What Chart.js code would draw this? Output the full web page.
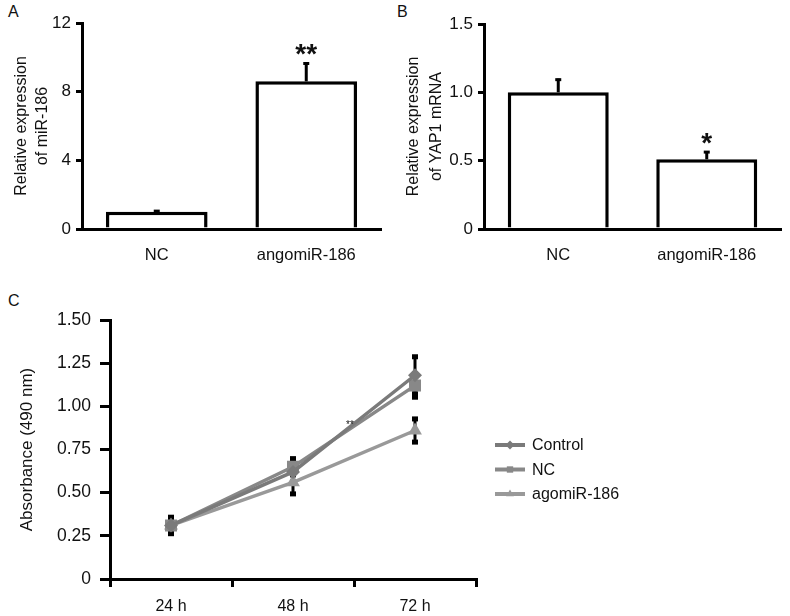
<!DOCTYPE html>
<html><head><meta charset="utf-8">
<script src="https://cdn.jsdelivr.net/npm/chart.js"></script>
<style>
html,body{margin:0;padding:0;background:#fff;}
body{width:790px;height:616px;overflow:hidden;position:relative;font-family:"Liberation Sans",Arial,sans-serif;}
.cv{position:absolute;}
.lbl{position:absolute;font-size:16px;color:#111;line-height:18px;}
</style></head><body>
<div class="lbl" style="left:8px;top:3px">A</div>
<div class="lbl" style="left:397px;top:3px">B</div>
<div class="lbl" style="left:8px;top:292px">C</div>
<canvas id="ca" class="cv" width="390" height="270" style="left:0;top:0;width:390px;height:270px"></canvas>
<canvas id="cb" class="cv" width="400" height="270" style="left:390px;top:0;width:400px;height:270px"></canvas>
<canvas id="cc" class="cv" width="790" height="326" style="left:0;top:290px;width:790px;height:326px"></canvas>
<script>
// ---- data ----
const barCategories = ['NC', 'angomiR-186'];
const mirValues = [1.0, 8.6];
const mirErrors = [0.1, 1.1];
const mirStars = ['', '**'];
const yapValues = [1.0, 0.51];
const yapErrors = [0.1, 0.06];
const yapStars = ['', '*'];
const yTicksA = [0, 4, 8, 12];
const yTickLabelsA = ['0', '4', '8', '12'];
const yTicksB = [0, 0.5, 1.0, 1.5];
const yTickLabelsB = ['0', '0.5', '1.0', '1.5'];
const timePoints = ['24 h', '48 h', '72 h'];
const seriesNames = ['Control', 'NC', 'agomiR-186'];
const controlValues = [0.31, 0.62, 1.18];
const ncValues = [0.31, 0.65, 1.12];
const agomirValues = [0.31, 0.56, 0.86];
const controlErrors = [0.05, 0.06, 0.11];
const ncErrors = [0.05, 0.05, 0.07];
const agomirErrors = [0.04, 0.07, 0.07];
const yTicksC = [0, 0.25, 0.5, 0.75, 1.0, 1.25, 1.5];
const yTickLabelsC = ['0', '0.25', '0.50', '0.75', '1.00', '1.25', '1.50'];
const sigLabelC = '**';

// ---- styling ----
const FONT = '"Liberation Sans", Arial, sans-serif';
Chart.defaults.font.family = FONT;
Chart.defaults.font.size = 16;
Chart.defaults.color = '#111';

function barErrorPlugin(errors, stars) {
  return {
    id: 'barErr',
    afterDatasetsDraw(chart) {
      const ctx = chart.ctx, y = chart.scales.y;
      const ds = chart.data.datasets[0];
      chart.getDatasetMeta(0).data.forEach((el, i) => {
        const v = ds.data[i], e = errors[i];
        const yTop = y.getPixelForValue(v + e), yBase = y.getPixelForValue(v);
        ctx.save();
        ctx.strokeStyle = '#000'; ctx.lineWidth = 3;
        ctx.beginPath(); ctx.moveTo(el.x, yBase); ctx.lineTo(el.x, yTop); ctx.stroke();
        ctx.beginPath(); ctx.moveTo(el.x - 3, yTop + 1); ctx.lineTo(el.x + 3, yTop + 1); ctx.stroke();
        if (stars[i]) {
          ctx.font = 'bold 28px ' + FONT; ctx.textAlign = 'center'; ctx.textBaseline = 'alphabetic';
          ctx.fillStyle = '#111'; ctx.fillText(stars[i], el.x, yTop + 1);
        }
        ctx.restore();
      });
    }
  };
}

function barChart(id, values, errors, stars, ticks, tickLabels, title, yMax, L) {
  return new Chart(document.getElementById(id), {
    type: 'bar',
    data: { labels: barCategories, datasets: [{ data: values, backgroundColor: '#fff', borderColor: '#000', borderWidth: 3.5, borderSkipped: 'start', barPercentage: 0.68, categoryPercentage: 1 }] },
    options: {
      responsive: false, animation: false,
      layout: { padding: { top: L.top, right: L.right, left: 0, bottom: 0 } },
      plugins: { legend: { display: false }, tooltip: { enabled: false } },
      scales: {
        x: { grid: { display: false }, border: { display: true, color: '#000', width: 3 },
             ticks: { padding: 9, font: { size: 16.5 } }, afterFit: s => { s.height = L.xh; } },
        y: { min: 0, max: yMax,
             afterBuildTicks: s => { s.ticks = ticks.map(v => ({ value: v })); },
             ticks: { callback: v => tickLabels[ticks.indexOf(v)], padding: 5, font: { size: 17 } },
             grid: { drawOnChartArea: false, color: '#000', lineWidth: 3, tickLength: 6 },
             border: { color: '#000', width: 3 },
             title: { display: true, text: title, font: { size: 16, lineHeight: L.lh }, padding: { top: L.tp, bottom: 0 } },
             afterFit: s => { s.width = L.yw; } }
      }
    },
    plugins: [barErrorPlugin(errors, stars)]
  });
}

barChart('ca', mirValues, mirErrors, mirStars, yTicksA, yTickLabelsA, ['Relative expression', 'of miR-186'], 12,
  { top: 23, right: 9, xh: 41, yw: 82, tp: 11, lh: 1.3 });
barChart('cb', yapValues, yapErrors, yapStars, yTicksB, yTickLabelsB, ['Relative expression', 'of YAP1 mRNA'], 1.5,
  { top: 24, right: 9, xh: 41, yw: 94, tp: 12.5, lh: 1.4 });

// ---- panel C ----
const lineColors = ['#7a7a7a', '#888888', '#999999'];
const pointStyles = ['rectRot', 'rect', 'triangle'];
const pointSizes = [7, 8.5, 8];
const seriesValues = [controlValues, ncValues, agomirValues];
const seriesErrors = [controlErrors, ncErrors, agomirErrors];

function drawMarker(ctx, style, x, y, r) {
  ctx.beginPath();
  if (style === 'rect') { const s = r * Math.SQRT1_2; ctx.rect(x - s, y - s, 2 * s, 2 * s); }
  else if (style === 'rectRot') { ctx.moveTo(x, y - r); ctx.lineTo(x + r, y); ctx.lineTo(x, y + r); ctx.lineTo(x - r, y); ctx.closePath(); }
  else { ctx.moveTo(x, y - r); ctx.lineTo(x + r * 0.87, y + r * 0.5); ctx.lineTo(x - r * 0.87, y + r * 0.5); ctx.closePath(); }
  ctx.fill();
}

const lineErrPlugin = {
  id: 'lineErr',
  beforeDatasetsDraw(chart) {
    const ctx = chart.ctx, y = chart.scales.y;
    chart.data.datasets.forEach((ds, k) => {
      chart.getDatasetMeta(k).data.forEach((el, i) => {
        const v = ds.data[i], e = seriesErrors[k][i];
        const yT = y.getPixelForValue(v + e), yB = y.getPixelForValue(v - e);
        ctx.save();
        ctx.strokeStyle = '#000'; ctx.lineWidth = 3;
        ctx.beginPath(); ctx.moveTo(el.x, yT); ctx.lineTo(el.x, yB); ctx.stroke();
        ctx.fillStyle = '#000';
        ctx.fillRect(el.x - 3, yT - 2, 6, 5);
        ctx.fillRect(el.x - 3, yB - 3, 6, 5);
        ctx.restore();
      });
    });
  },
  afterDatasetsDraw(chart) {
    const ctx = chart.ctx, x = chart.scales.x, y = chart.scales.y;
    ctx.save();
    ctx.font = '10px ' + FONT; ctx.fillStyle = '#111'; ctx.textAlign = 'center'; ctx.textBaseline = 'middle';
    ctx.fillText(sigLabelC, (x.getPixelForValue(1) + x.getPixelForValue(2)) / 2 - 4, y.getPixelForValue(0.9) + 2);
    ctx.restore();
  },
  afterDraw(chart) {
    const ctx = chart.ctx, a = chart.chartArea;
    const x0 = a.right + 19, y0 = (a.top + a.bottom) / 2 - 4.5, gap = 24.5;
    chart.data.datasets.forEach((ds, k) => {
      const yy = y0 + k * gap;
      ctx.save();
      ctx.strokeStyle = ds.borderColor; ctx.lineWidth = 4;
      ctx.beginPath(); ctx.moveTo(x0, yy); ctx.lineTo(x0 + 30, yy); ctx.stroke();
      ctx.fillStyle = ds.borderColor;
      drawMarker(ctx, ds.pointStyle, x0 + 15, yy, 4.5);
      ctx.fillStyle = '#111'; ctx.font = '16px ' + FONT; ctx.textBaseline = 'middle'; ctx.textAlign = 'left';
      ctx.fillText(ds.label, x0 + 37, yy + 1);
      ctx.restore();
    });
  }
};

new Chart(document.getElementById('cc'), {
  type: 'line',
  data: {
    labels: timePoints,
    datasets: seriesNames.map((n, k) => ({
      label: n, data: seriesValues[k], borderColor: lineColors[k], backgroundColor: lineColors[k],
      borderWidth: 3.5, pointStyle: pointStyles[k], pointRadius: pointSizes[k], pointBorderWidth: 0,
      pointBackgroundColor: lineColors[k], tension: 0, fill: false
    }))
  },
  options: {
    responsive: false, animation: false,
    layout: { padding: { top: 30, right: 314, left: 0, bottom: 0 } },
    plugins: { legend: { display: false }, tooltip: { enabled: false } },
    scales: {
      x: { offset: true,
           grid: { offset: true, drawOnChartArea: false, color: '#000', lineWidth: 3, tickLength: 8 },
           border: { color: '#000', width: 3 },
           ticks: { padding: 10, font: { size: 16 } },
           afterFit: s => { s.height = 37; } },
      y: { min: 0, max: 1.5,
           afterBuildTicks: s => { s.ticks = yTicksC.map(v => ({ value: v })); },
           ticks: { callback: v => yTickLabelsC[yTicksC.indexOf(v)], padding: 9, font: { size: 17.5 } },
           grid: { drawOnChartArea: false, color: '#000', lineWidth: 3, tickLength: 10 },
           border: { color: '#000', width: 3 },
           title: { display: true, text: 'Absorbance (490 nm)', font: { size: 17 }, padding: { top: 17, bottom: 0 } },
           afterFit: s => { s.width = 110; } }
    }
  },
  plugins: [lineErrPlugin]
});
</script>
</body></html>
